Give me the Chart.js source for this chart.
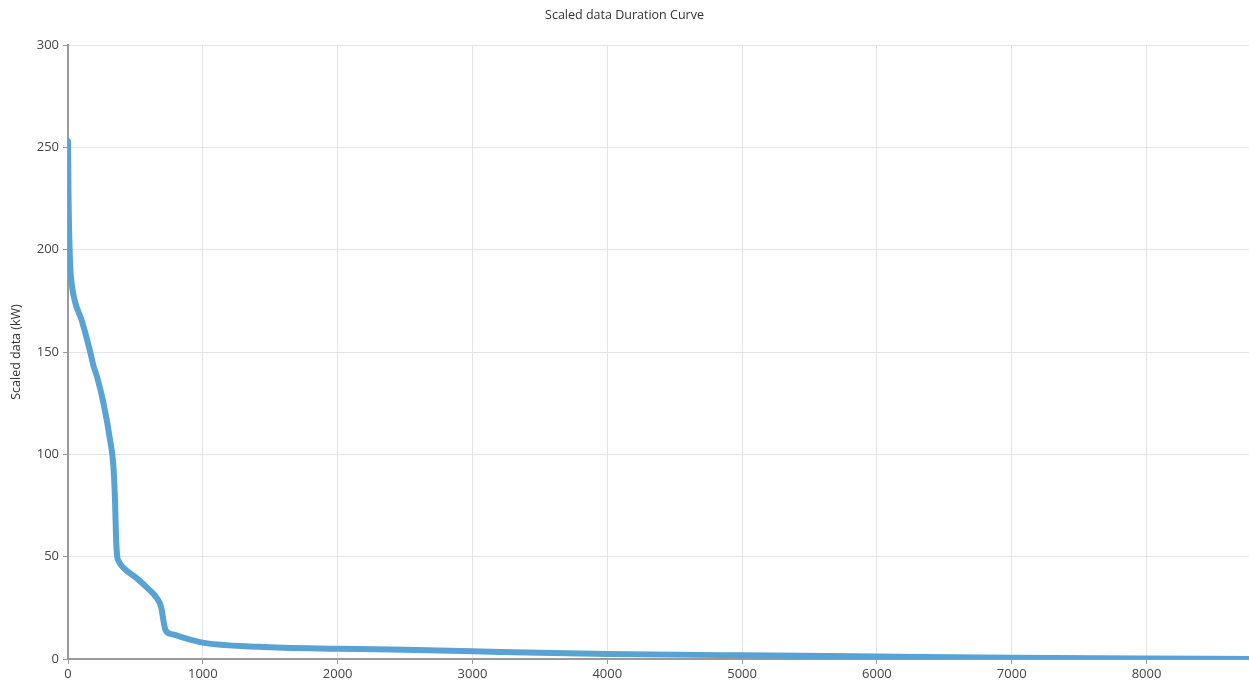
<!DOCTYPE html>
<html>
<head>
<meta charset="utf-8">
<script src="https://cdn.jsdelivr.net/npm/chart.js@4/dist/chart.umd.min.js"></script>
<style>
  html, body { margin: 0; padding: 0; background: #fff; }
  #wrap { width: 1249px; height: 689px; position: relative; }
</style>
</head>
<body>
<div id="wrap"><canvas id="c"></canvas></div>
<script>
// Sorted load values (duration curve): hour rank and scaled load in kW
const hours = [0, 2, 4, 8, 12, 18, 30, 50, 104, 165, 190, 215, 263, 312, 337, 349, 357, 365, 374, 420, 500, 600, 656, 692, 710, 724, 778, 1000, 1415, 2000, 2500, 3000, 3500, 4000, 5000, 6000, 7000, 8000, 8760];
const scaledKW = [253, 240, 225, 210, 200, 190, 182, 175, 165, 150, 143, 138, 125, 107, 94, 77, 58, 50, 48, 44, 40, 34, 30, 25, 18, 14, 12, 8, 6, 5, 4.5, 3.8, 3, 2.5, 1.8, 1.2, 0.6, 0.3, 0];
const xTickValues = [0, 1000, 2000, 3000, 4000, 5000, 6000, 7000, 8000];
const yTickValues = [0, 50, 100, 150, 200, 250, 300];

const points = hours.map((h, i) => ({ x: h, y: scaledKW[i] }));
const family = "'Open Sans', 'Noto Sans', sans-serif";
const tickFont = { family, size: 13 };

new Chart(document.getElementById('c'), {
  type: 'line',
  data: {
    datasets: [{
      data: points,
      borderColor: '#58a3d4',
      borderWidth: 6,
      borderCapStyle: 'round',
      borderJoinStyle: 'round',
      pointRadius: 0,
      cubicInterpolationMode: 'monotone',
      fill: false
    }]
  },
  options: {
    responsive: true,
    maintainAspectRatio: false,
    animation: false,
    layout: { padding: { top: 0, right: 0, left: 0, bottom: 0 } },
    plugins: {
      legend: { display: false },
      tooltip: { enabled: false },
      title: {
        display: true,
        text: 'Scaled data Duration Curve',
        color: '#333',
        font: { family, size: 12.5, weight: 'normal' },
        padding: { top: 8, bottom: 22 }
      }
    },
    scales: {
      x: {
        type: 'linear',
        min: 0,
        max: 8760,
        afterBuildTicks: s => { s.ticks = xTickValues.map(v => ({ value: v })); },
        afterFit: s => { s.height = 30; },
        grid: { color: '#e4e4e4', tickColor: '#9a9a9a', tickLength: 5, lineWidth: 1 },
        border: { color: '#9a9a9a', width: 2 },
        ticks: { color: '#444', font: tickFont, padding: 2, maxRotation: 0, autoSkip: false,
                 callback: v => String(v) }
      },
      y: {
        type: 'linear',
        min: 0,
        max: 300,
        afterBuildTicks: s => { s.ticks = yTickValues.map(v => ({ value: v })); },
        afterFit: s => { s.width = 68; },
        grid: { color: '#e4e4e4', tickColor: '#9a9a9a', tickLength: 5, lineWidth: 1 },
        border: { color: '#9a9a9a', width: 2 },
        title: { display: true, text: 'Scaled data (kW)', color: '#333',
                 font: { family, size: 12.5 }, padding: { top: 9, bottom: 0 } },
        ticks: { color: '#444', font: tickFont, padding: 4, callback: v => String(v) }
      }
    }
  }
});
</script>
</body>
</html>
